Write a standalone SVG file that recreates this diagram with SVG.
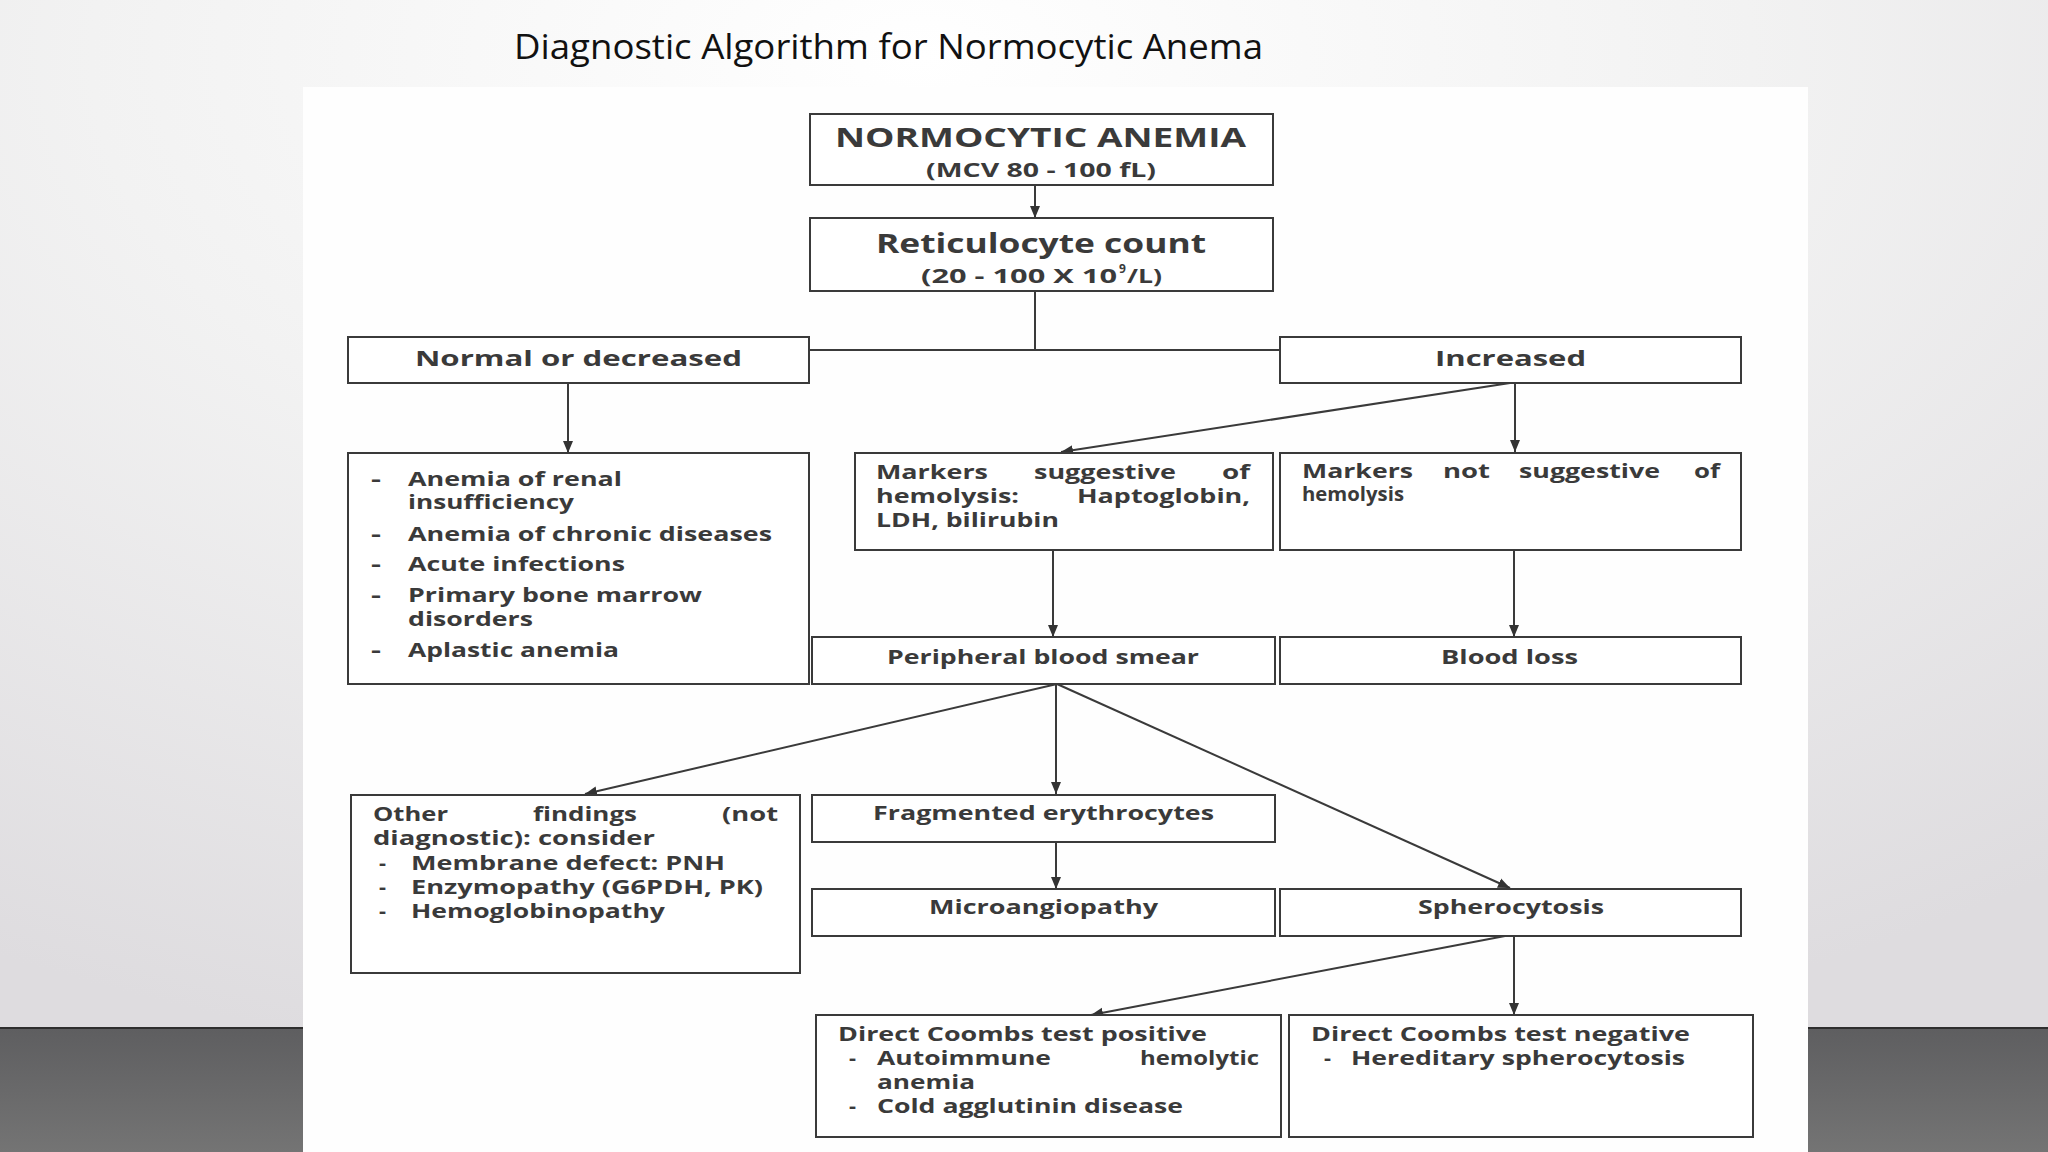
<svg xmlns="http://www.w3.org/2000/svg" width="2048" height="1152" viewBox="0 0 2048 1152">
<defs>
<radialGradient id="bg" cx="0.45" cy="0.05" r="0.9">
<stop offset="0" stop-color="#ffffff"/>
<stop offset="0.45" stop-color="#f2f2f2"/>
<stop offset="1" stop-color="#dedcdf"/>
</radialGradient>
<linearGradient id="strip" x1="0" y1="0" x2="0" y2="1">
<stop offset="0" stop-color="#5e5e60"/>
<stop offset="1" stop-color="#747474"/>
</linearGradient>
<marker id="ah" markerUnits="userSpaceOnUse" markerWidth="12" markerHeight="12" viewBox="0 0 12 12" refX="12" refY="6" orient="auto">
<path d="M0,1 L12,6 L0,11 z" fill="#333"/>
</marker>
<style>
.box{fill:#fff;stroke:#3a3a3a;stroke-width:2}
.t{font-family:"Open Sans","Noto Sans","DejaVu Sans",sans-serif;font-weight:700;fill:#3a3a3a;font-size:19px}
.big{font-size:26px}
.mid{font-size:22px}
.title{font-family:"Open Sans","Noto Sans",sans-serif;font-weight:400;font-size:34px;fill:#111}
#connectors line{stroke:#3a3a3a;stroke-width:2;fill:none}
.arr{marker-end:url(#ah)}
</style>
</defs>
<rect x="0" y="0" width="2048" height="1152" fill="url(#bg)"/>
<rect x="0" y="1028" width="2048" height="124" fill="url(#strip)"/>
<line x1="0" y1="1028" x2="2048" y2="1028" stroke="#2e2e2e" stroke-width="2"/>
<rect x="303" y="87" width="1505" height="1065" fill="#fefefe"/>
<text class="title" x="514" y="59" textLength="749" lengthAdjust="spacingAndGlyphs">Diagnostic Algorithm for Normocytic Anema</text>

<g id="connectors">
<line class="arr" x1="1035" y1="185" x2="1035" y2="218"/>
<line x1="1035" y1="291" x2="1035" y2="350"/>
<line x1="809" y1="350" x2="1280" y2="350"/>
<line class="arr" x1="568" y1="383" x2="568" y2="453"/>
<line class="arr" x1="1510" y1="383" x2="1061" y2="452"/>
<line class="arr" x1="1515" y1="383" x2="1515" y2="452"/>
<line class="arr" x1="1053" y1="550" x2="1053" y2="637"/>
<line class="arr" x1="1514" y1="550" x2="1514" y2="637"/>
<line class="arr" x1="1057" y1="684" x2="585" y2="794"/>
<line class="arr" x1="1056" y1="684" x2="1056" y2="794"/>
<line class="arr" x1="1057" y1="684" x2="1510" y2="888"/>
<line class="arr" x1="1056" y1="842" x2="1056" y2="889"/>
<line class="arr" x1="1505" y1="936" x2="1091" y2="1015"/>
<line class="arr" x1="1514" y1="936" x2="1514" y2="1015"/>
</g>

<g id="n1">
<rect class="box" x="810" y="114" width="463" height="71"/>
<text class="t big" x="835" y="147" textLength="411" lengthAdjust="spacingAndGlyphs">NORMOCYTIC ANEMIA</text>
<text class="t" x="926" y="177" textLength="230" lengthAdjust="spacingAndGlyphs">(MCV 80 - 100 fL)</text>
</g>
<g id="n2">
<rect class="box" x="810" y="218" width="463" height="73"/>
<text class="t big" x="876" y="253" textLength="330" lengthAdjust="spacingAndGlyphs">Reticulocyte count</text>
<text class="t" x="921" y="283" textLength="196" lengthAdjust="spacingAndGlyphs">(20 -  100 X 10</text>
<text class="t" x="1119" y="273" style="font-size:12px">9</text>
<text class="t" x="1127" y="283" textLength="35" lengthAdjust="spacingAndGlyphs">/L)</text>
</g>
<g id="n3">
<rect class="box" x="348" y="337" width="461" height="46"/>
<text class="t mid" x="415" y="366" textLength="327" lengthAdjust="spacingAndGlyphs">Normal or decreased</text>
</g>
<g id="n4">
<rect class="box" x="1280" y="337" width="461" height="46"/>
<text class="t mid" x="1435" y="366" textLength="151" lengthAdjust="spacingAndGlyphs">Increased</text>
</g>
<g id="n5">
<rect class="box" x="348" y="453" width="461" height="231"/>
<text class="t" x="371" y="486" textLength="10" lengthAdjust="spacingAndGlyphs">-</text>
<text class="t" x="408" y="486" textLength="214" lengthAdjust="spacingAndGlyphs">Anemia of renal</text>
<text class="t" x="408" y="509" textLength="166" lengthAdjust="spacingAndGlyphs">insufficiency</text>
<text class="t" x="371" y="541" textLength="10" lengthAdjust="spacingAndGlyphs">-</text>
<text class="t" x="408" y="541" textLength="364" lengthAdjust="spacingAndGlyphs">Anemia of chronic diseases</text>
<text class="t" x="371" y="571" textLength="10" lengthAdjust="spacingAndGlyphs">-</text>
<text class="t" x="408" y="571" textLength="217" lengthAdjust="spacingAndGlyphs">Acute infections</text>
<text class="t" x="371" y="602" textLength="10" lengthAdjust="spacingAndGlyphs">-</text>
<text class="t" x="408" y="602" textLength="294" lengthAdjust="spacingAndGlyphs">Primary bone marrow</text>
<text class="t" x="408" y="626" textLength="125" lengthAdjust="spacingAndGlyphs">disorders</text>
<text class="t" x="371" y="657" textLength="10" lengthAdjust="spacingAndGlyphs">-</text>
<text class="t" x="408" y="657" textLength="211" lengthAdjust="spacingAndGlyphs">Aplastic anemia</text>
</g>
<g id="n6">
<rect class="box" x="855" y="453" width="418" height="97"/>
<text class="t" x="876" y="479" textLength="112" lengthAdjust="spacingAndGlyphs">Markers</text>
<text class="t" x="1034" y="479" textLength="142" lengthAdjust="spacingAndGlyphs">suggestive</text>
<text class="t" x="1222" y="479" textLength="28" lengthAdjust="spacingAndGlyphs">of</text>
<text class="t" x="876" y="503" textLength="143" lengthAdjust="spacingAndGlyphs">hemolysis:</text>
<text class="t" x="1077" y="503" textLength="173" lengthAdjust="spacingAndGlyphs">Haptoglobin,</text>
<text class="t" x="876" y="527" textLength="183" lengthAdjust="spacingAndGlyphs">LDH, bilirubin</text>
</g>
<g id="n7">
<rect class="box" x="1280" y="453" width="461" height="97"/>
<text class="t" x="1302" y="478" textLength="111" lengthAdjust="spacingAndGlyphs">Markers</text>
<text class="t" x="1443" y="478" textLength="47" lengthAdjust="spacingAndGlyphs">not</text>
<text class="t" x="1519" y="478" textLength="141" lengthAdjust="spacingAndGlyphs">suggestive</text>
<text class="t" x="1694" y="478" textLength="26" lengthAdjust="spacingAndGlyphs">of</text>
<text class="t" x="1302" y="501" textLength="102" lengthAdjust="spacingAndGlyphs">hemolysis</text>
</g>
<g id="n8">
<rect class="box" x="812" y="637" width="463" height="47"/>
<text class="t" x="887" y="664" textLength="312" lengthAdjust="spacingAndGlyphs">Peripheral blood smear</text>
</g>
<g id="n9">
<rect class="box" x="1280" y="637" width="461" height="47"/>
<text class="t" x="1441" y="664" textLength="137" lengthAdjust="spacingAndGlyphs">Blood loss</text>
</g>
<g id="n10">
<rect class="box" x="351" y="795" width="449" height="178"/>
<text class="t" x="373" y="821" textLength="75" lengthAdjust="spacingAndGlyphs">Other</text>
<text class="t" x="533" y="821" textLength="104" lengthAdjust="spacingAndGlyphs">findings</text>
<text class="t" x="722" y="821" textLength="56" lengthAdjust="spacingAndGlyphs">(not</text>
<text class="t" x="373" y="845" textLength="282" lengthAdjust="spacingAndGlyphs">diagnostic):  consider</text>
<text class="t" x="379" y="870" textLength="7" lengthAdjust="spacingAndGlyphs">-</text>
<text class="t" x="411" y="870" textLength="314" lengthAdjust="spacingAndGlyphs">Membrane defect: PNH</text>
<text class="t" x="379" y="894" textLength="7" lengthAdjust="spacingAndGlyphs">-</text>
<text class="t" x="411" y="894" textLength="352" lengthAdjust="spacingAndGlyphs">Enzymopathy (G6PDH, PK)</text>
<text class="t" x="379" y="918" textLength="7" lengthAdjust="spacingAndGlyphs">-</text>
<text class="t" x="411" y="918" textLength="254" lengthAdjust="spacingAndGlyphs">Hemoglobinopathy</text>
</g>
<g id="n11">
<rect class="box" x="812" y="795" width="463" height="47"/>
<text class="t" x="873" y="820" textLength="341" lengthAdjust="spacingAndGlyphs">Fragmented erythrocytes</text>
</g>
<g id="n12">
<rect class="box" x="812" y="889" width="463" height="47"/>
<text class="t" x="929" y="914" textLength="229" lengthAdjust="spacingAndGlyphs">Microangiopathy</text>
</g>
<g id="n13">
<rect class="box" x="1280" y="889" width="461" height="47"/>
<text class="t" x="1418" y="914" textLength="186" lengthAdjust="spacingAndGlyphs">Spherocytosis</text>
</g>
<g id="n14">
<rect class="box" x="816" y="1015" width="465" height="122"/>
<text class="t" x="838" y="1041" textLength="369" lengthAdjust="spacingAndGlyphs">Direct Coombs test positive</text>
<text class="t" x="849" y="1065" textLength="7" lengthAdjust="spacingAndGlyphs">-</text>
<text class="t" x="877" y="1065" textLength="174" lengthAdjust="spacingAndGlyphs">Autoimmune</text>
<text class="t" x="1140" y="1065" textLength="119" lengthAdjust="spacingAndGlyphs">hemolytic</text>
<text class="t" x="877" y="1089" textLength="98" lengthAdjust="spacingAndGlyphs">anemia</text>
<text class="t" x="849" y="1113" textLength="7" lengthAdjust="spacingAndGlyphs">-</text>
<text class="t" x="877" y="1113" textLength="306" lengthAdjust="spacingAndGlyphs">Cold agglutinin disease</text>
</g>
<g id="n15">
<rect class="box" x="1289" y="1015" width="464" height="122"/>
<text class="t" x="1311" y="1041" textLength="379" lengthAdjust="spacingAndGlyphs">Direct Coombs test negative</text>
<text class="t" x="1324" y="1065" textLength="7" lengthAdjust="spacingAndGlyphs">-</text>
<text class="t" x="1351" y="1065" textLength="334" lengthAdjust="spacingAndGlyphs">Hereditary spherocytosis</text>
</g>
</svg>
